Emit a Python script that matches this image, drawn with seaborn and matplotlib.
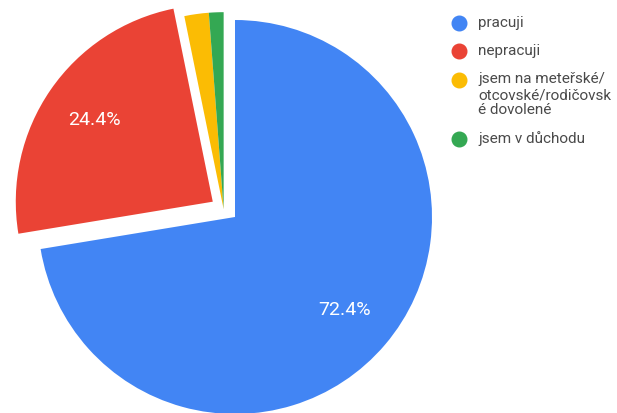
import matplotlib
matplotlib.use("Agg")
import matplotlib.pyplot as plt
from matplotlib.lines import Line2D
import numpy as np
import seaborn as sns

# Survey answers: employment status of respondents (counts)
categories = ["pracuji", "nepracuji", "jsem na meteřské/otcovské/rodičovské dovolené", "jsem v důchodu"]
legend_lines = [
    ["pracuji"],
    ["nepracuji"],
    ["jsem na meteřské/", "otcovské/rodičovsk", "é dovolené"],
    ["jsem v důchodu"],
]
counts = [181, 61, 5, 3]
palette = ["#4285F4", "#EA4335", "#FBBC04", "#34A853"]

sns.set_theme(style="white")
plt.rcParams["font.family"] = ["Roboto", "DejaVu Sans"]

W, H = 617, 413
fig = plt.figure(figsize=(W / 100, H / 100), dpi=100)
fig.patch.set_facecolor("white")
ax = fig.add_axes([0, 0, 1, 1])

colors = sns.color_palette(palette)
explode = [0, 0.137, 0, 0]

wedges, texts, autotexts = ax.pie(
    counts,
    colors=colors,
    explode=explode,
    startangle=90,
    counterclock=False,
    radius=1,
    autopct=lambda p: f"{p:.1f}%" if p > 5 else "",
    pctdistance=0.73,
    wedgeprops=dict(linewidth=0),
    textprops=dict(color="white", fontsize=14),
)

# the two small slices are pulled out along the same direction as the red one
red = wedges[1]
mid = np.deg2rad((red.theta1 + red.theta2) / 2)
for w in wedges[2:]:
    w.set_center((0.07 * np.cos(mid), 0.07 * np.sin(mid)))

# pie geometry in pixels (radius and centre), axes scaled so radius == 1
R = 197.0
cx, cy = 235.0, 217.0
ax.set_xlim(-cx / R, (W - cx) / R)
ax.set_ylim(-(H - cy) / R, cy / R)
ax.set_aspect("equal", adjustable="datalim")
ax.set_axis_off()

# legend on the right: coloured dots with wrapped labels
mx, tx = 459, 478
y = 22.5
row_gap, line_gap = 28.5, 15.5
for col, lines in zip(colors, legend_lines):
    fig.add_artist(Line2D([mx / W], [1 - y / H], transform=fig.transFigure,
                          marker="o", markersize=10.5, color=col, linestyle="none"))
    for k, line in enumerate(lines):
        fig.text(tx / W, 1 - (y + 4 + k * line_gap) / H, line,
                 fontsize=11, color="#4a4a4a", va="baseline", ha="left")
    y += row_gap + line_gap * (len(lines) - 1)

fig.savefig("out.png", dpi=100, facecolor="white")
